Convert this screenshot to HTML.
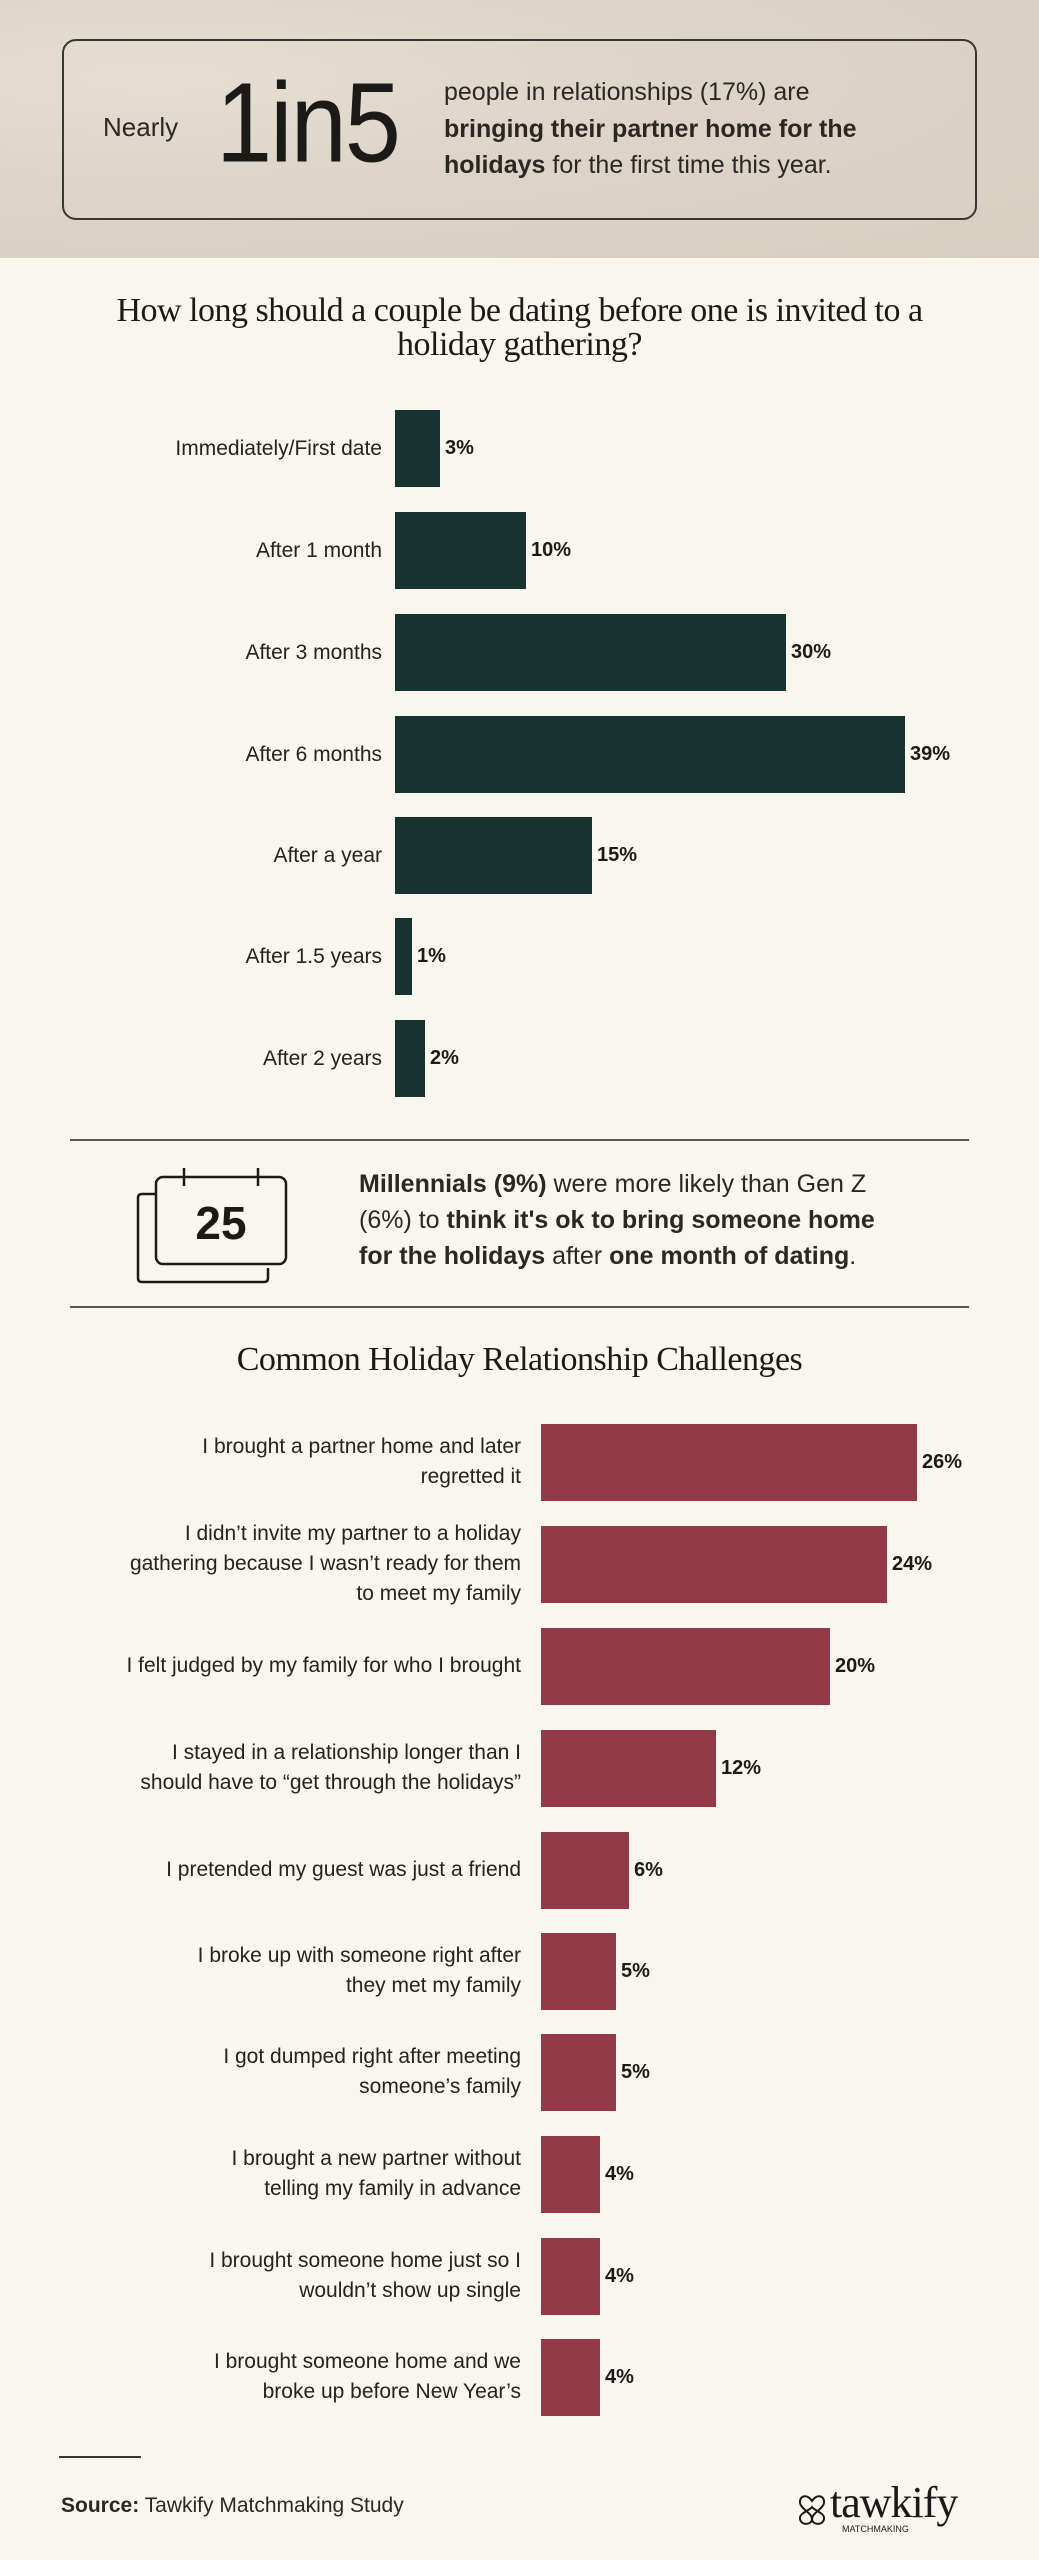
<!DOCTYPE html>
<html><head><meta charset="utf-8"><style>
*{margin:0;padding:0;box-sizing:border-box}
body{width:1039px;height:2560px;background:#f9f5ef;position:relative;overflow:hidden;font-family:"Liberation Sans",sans-serif;color:#1c1a18}
.abs{position:absolute}
.hdr{left:0;top:0;width:1039px;height:258px;background:radial-gradient(ellipse at 15% 30%,#e6ded2 0,#ddd5c8 40%,#d8cfc1 100%)}
.box{left:62px;top:39px;width:915px;height:181px;border:2px solid #3a3632;border-radius:14px}
.lab{text-align:right;font-size:21px;line-height:30px;color:#25221f}
.val{font-weight:bold;font-size:20px}
.b1{background:#163330;height:77px}
.b2{background:#943a47;height:77px}
h2{position:absolute;font-family:"Liberation Serif",serif;font-weight:normal;font-size:34px;text-align:center;width:1039px;left:0;line-height:34px;letter-spacing:-0.5px}
</style></head><body>
<div class="abs hdr"></div>
<div class="abs box"></div>
<div class="abs" style="left:103px;top:112px;font-size:26px;color:#2a2724">Nearly</div>
<div class="abs" style="left:216px;top:62px;font-size:101px;line-height:110px;color:#1c1a18;letter-spacing:-2px;transform:scaleY(1.12);transform-origin:left top">1in5</div>
<div class="abs" style="left:444px;top:74px;font-size:25px;line-height:36.5px;color:#2a2724;width:540px">people in relationships (17%) are<br><b>bringing their partner home for the</b><br><b>holidays</b> for the first time this year.</div>

<h2 style="top:294px">How long should a couple be dating before one is invited to a<br>holiday gathering?</h2>

<div class="abs lab" style="left:0;width:382px;top:434px">Immediately/First date</div>
<div class="abs b1" style="left:395px;top:410px;width:45px"></div>
<div class="abs val" style="left:445px;top:437px">3%</div>

<div class="abs lab" style="left:0;width:382px;top:536px">After 1 month</div>
<div class="abs b1" style="left:395px;top:512px;width:131px"></div>
<div class="abs val" style="left:531px;top:539px">10%</div>

<div class="abs lab" style="left:0;width:382px;top:638px">After 3 months</div>
<div class="abs b1" style="left:395px;top:614px;width:391px"></div>
<div class="abs val" style="left:791px;top:641px">30%</div>

<div class="abs lab" style="left:0;width:382px;top:740px">After 6 months</div>
<div class="abs b1" style="left:395px;top:716px;width:510px"></div>
<div class="abs val" style="left:910px;top:743px">39%</div>

<div class="abs lab" style="left:0;width:382px;top:841px">After a year</div>
<div class="abs b1" style="left:395px;top:817px;width:197px"></div>
<div class="abs val" style="left:597px;top:844px">15%</div>

<div class="abs lab" style="left:0;width:382px;top:942px">After 1.5 years</div>
<div class="abs b1" style="left:395px;top:918px;width:17px"></div>
<div class="abs val" style="left:417px;top:945px">1%</div>

<div class="abs lab" style="left:0;width:382px;top:1044px">After 2 years</div>
<div class="abs b1" style="left:395px;top:1020px;width:30px"></div>
<div class="abs val" style="left:430px;top:1047px">2%</div>

<div class="abs" style="left:70px;top:1139px;width:899px;height:2px;background:#5a5550"></div>

<svg class="abs" style="left:130px;top:1160px" width="170" height="130" viewBox="0 0 170 130">
<path d="M8 38 Q8 34 12 34 L26 34 M8 38 L8 118 Q8 122 12 122 L134 122 Q138 122 138 118 L138 108" fill="none" stroke="#1c1a18" stroke-width="2.5"/>
<rect x="26" y="17" width="130" height="87" rx="7" fill="#f9f5ef" stroke="#1c1a18" stroke-width="2.5"/>
<line x1="54" y1="8" x2="54" y2="26" stroke="#1c1a18" stroke-width="2.5"/>
<line x1="128" y1="8" x2="128" y2="26" stroke="#1c1a18" stroke-width="2.5"/>
<text x="91" y="79" text-anchor="middle" font-family="Liberation Sans" font-weight="bold" font-size="46" fill="#1c1a18">25</text>
</svg>
<div class="abs" style="left:359px;top:1166px;font-size:25px;line-height:36px;color:#2a2724;width:620px"><b>Millennials (9%)</b> were more likely than Gen Z<br>(6%) to <b>think it's ok to bring someone home</b><br><b>for the holidays</b> after <b>one month of dating</b>.</div>

<div class="abs" style="left:70px;top:1306px;width:899px;height:2px;background:#5a5550"></div>

<h2 style="top:1343px">Common Holiday Relationship Challenges</h2>

<div class="abs lab" style="left:0;width:521px;top:1432px">I brought a partner home and later<br>regretted it</div>
<div class="abs b2" style="left:541px;top:1424px;width:376px"></div>
<div class="abs val" style="left:922px;top:1451px">26%</div>

<div class="abs lab" style="left:0;width:521px;top:1519px">I didn’t invite my partner to a holiday<br>gathering because I wasn’t ready for them<br>to meet my family</div>
<div class="abs b2" style="left:541px;top:1526px;width:346px"></div>
<div class="abs val" style="left:892px;top:1553px">24%</div>

<div class="abs lab" style="left:0;width:521px;top:1651px">I felt judged by my family for who I brought</div>
<div class="abs b2" style="left:541px;top:1628px;width:289px"></div>
<div class="abs val" style="left:835px;top:1655px">20%</div>

<div class="abs lab" style="left:0;width:521px;top:1738px">I stayed in a relationship longer than I<br>should have to “get through the holidays”</div>
<div class="abs b2" style="left:541px;top:1730px;width:175px"></div>
<div class="abs val" style="left:721px;top:1757px">12%</div>

<div class="abs lab" style="left:0;width:521px;top:1855px">I pretended my guest was just a friend</div>
<div class="abs b2" style="left:541px;top:1832px;width:88px"></div>
<div class="abs val" style="left:634px;top:1859px">6%</div>

<div class="abs lab" style="left:0;width:521px;top:1941px">I broke up with someone right after<br>they met my family</div>
<div class="abs b2" style="left:541px;top:1933px;width:75px"></div>
<div class="abs val" style="left:621px;top:1960px">5%</div>

<div class="abs lab" style="left:0;width:521px;top:2042px">I got dumped right after meeting<br>someone’s family</div>
<div class="abs b2" style="left:541px;top:2034px;width:75px"></div>
<div class="abs val" style="left:621px;top:2061px">5%</div>

<div class="abs lab" style="left:0;width:521px;top:2144px">I brought a new partner without<br>telling my family in advance</div>
<div class="abs b2" style="left:541px;top:2136px;width:59px"></div>
<div class="abs val" style="left:605px;top:2163px">4%</div>

<div class="abs lab" style="left:0;width:521px;top:2246px">I brought someone home just so I<br>wouldn’t show up single</div>
<div class="abs b2" style="left:541px;top:2238px;width:59px"></div>
<div class="abs val" style="left:605px;top:2265px">4%</div>

<div class="abs lab" style="left:0;width:521px;top:2347px">I brought someone home and we<br>broke up before New Year’s</div>
<div class="abs b2" style="left:541px;top:2339px;width:59px"></div>
<div class="abs val" style="left:605px;top:2366px">4%</div>

<div class="abs" style="left:59px;top:2456px;width:82px;height:1.5px;background:#3a3632"></div>
<div class="abs" style="left:61px;top:2494px;font-size:21px;color:#2a2724"><b>Source:</b> Tawkify Matchmaking Study</div>

<svg class="abs" style="left:797px;top:2493px" width="30" height="34" viewBox="0 0 30 34">
<path d="M15 8 C10 0 2 3 3 10 C4 16 15 20 15 26 C15 20 26 16 27 10 C28 3 20 0 15 8 Z M15 26 C15 32 4 33 3 26 C2 20 12 18 15 14 C18 18 28 20 27 26 C26 33 15 32 15 26Z" fill="none" stroke="#1c1a18" stroke-width="2"/>
</svg>
<div class="abs" style="left:830px;top:2478px;font-family:'Liberation Serif',serif;font-size:44px;line-height:50px;color:#1c1a18;letter-spacing:-1px">tawkify</div>
<div class="abs" style="left:842px;top:2524px;font-size:9px;color:#1c1a18">MATCHMAKING</div>
</body></html>
